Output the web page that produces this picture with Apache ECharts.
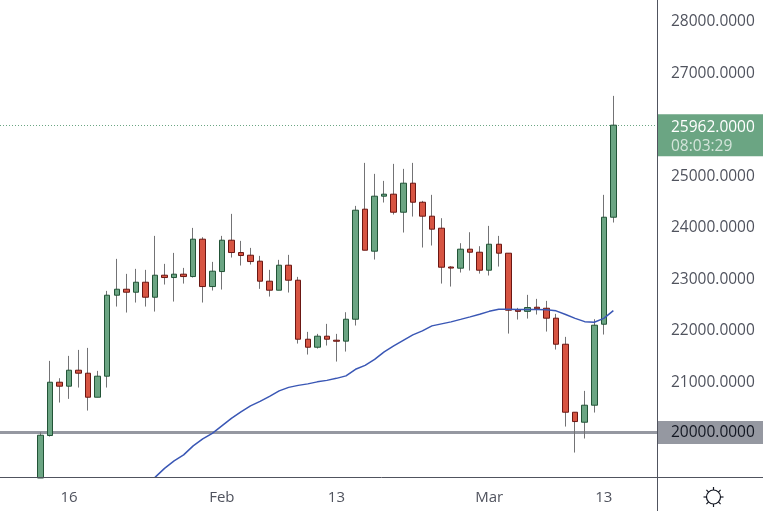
<!DOCTYPE html>
<html><head><meta charset="utf-8">
<style>html,body{margin:0;padding:0;background:#fff}#c{width:763px;height:511px}</style>
<script src="https://cdn.jsdelivr.net/npm/echarts@6/dist/echarts.min.js"></script>
</head><body><div id="c"></div>
<script>
const dates = ['Jan 13','Jan 14','Jan 15','Jan 16','Jan 17','Jan 18','Jan 19','Jan 20','Jan 21','Jan 22','Jan 23','Jan 24','Jan 25','Jan 26','Jan 27','Jan 28','Jan 29','Jan 30','Jan 31','Feb 1','Feb 2','Feb 3','Feb 4','Feb 5','Feb 6','Feb 7','Feb 8','Feb 9','Feb 10','Feb 11','Feb 12','Feb 13','Feb 14','Feb 15','Feb 16','Feb 17','Feb 18','Feb 19','Feb 20','Feb 21','Feb 22','Feb 23','Feb 24','Feb 25','Feb 26','Feb 27','Feb 28','Mar 1','Mar 2','Mar 3','Mar 4','Mar 5','Mar 6','Mar 7','Mar 8','Mar 9','Mar 10','Mar 11','Mar 12','Mar 13','Mar 14'];
const xTickLabels = {'Jan 16':'16','Feb 1':'Feb','Feb 13':'13','Mar 1':'Mar','Mar 13':'13'};
const opens = [19117,19941,20975,20898,21208,21150,20684,21092,22663,22779,22721,22915,22624,23051,23006,23071,23025,23750,22831,23122,23730,23491,23439,23323,22935,22760,23245,22954,21809,21654,21868,21790,21772,22197,24332,23517,24584,24623,24273,24836,24467,24196,23963,23210,23187,23556,23497,23148,23652,23478,22380,22350,22430,22410,22217,21712,20393,20199,20529,22100,24176];
const closes = [19947,20975,20898,21208,21150,20684,21092,22663,22779,22721,22915,22624,23051,23006,23071,23025,23750,22831,23129,23730,23491,23433,23316,22935,22760,23245,22954,21809,21654,21868,21809,21770,22197,24312,23536,24584,24623,24273,24836,24467,24196,23944,23206,23190,23556,23497,23148,23652,23478,22372,22350,22424,22400,22217,21712,20393,20212,20529,22081,24176,25962];
const lows = [19117,19921,20581,20652,20872,20425,20684,20872,22443,22327,22521,22443,22346,22870,22540,22889,23006,22521,22754,22773,23394,23239,23258,22786,22637,22760,22715,21725,21512,21628,21687,21376,21570,22075,23536,23355,24461,24228,23879,24189,23588,23627,22889,22831,23103,23142,23083,23045,23219,21919,22191,22210,22288,21958,21609,20115,19611,19883,20387,21900,24073];
const highs = [20005,21389,21053,21486,21602,21641,21195,22747,23368,23077,23174,23155,23814,23271,23484,23193,23969,23788,23310,23814,24241,23717,23581,23426,23155,23349,23446,23019,21952,21913,22107,21913,22333,24396,25230,25017,24881,25211,25114,25230,24493,24610,24157,23226,23672,23885,23614,24008,23814,23478,22417,22670,22592,22553,22301,21855,20393,20807,22197,24610,26530];
const maValues = [null,null,null,null,null,null,null,null,null,null,null,null,19130,19304,19449,19565,19740,19876,19983,20128,20274,20400,20516,20603,20700,20807,20875,20914,20943,20982,21011,21050,21098,21226,21302,21418,21564,21680,21787,21894,21971,22068,22107,22146,22194,22243,22295,22350,22392,22392,22388,22388,22385,22379,22360,22288,22214,22150,22138,22214,22365];
const yTickValues = [21000,22000,23000,24000,25000,27000,28000];
const lastPrice = 25962, lastPriceText = '25962.0000', countdown = '08:03:29';
const levelPrice = 20000, levelText = '20000.0000';

const FONT = '"Open Sans","Noto Sans",sans-serif';
const xTickIndex = dates.map((d,i)=>xTickLabels[d]?i:-1).filter(i=>i>=0);
const wickData = dates.map((_,i)=>[i,opens[i],closes[i],lows[i],highs[i]]);
const bodyData = dates.map((_,i)=>[i,opens[i],closes[i],Math.min(opens[i],closes[i]),Math.max(opens[i],closes[i])]);
const maData = dates.map((_,i)=>[i,maValues[i]]);

const icx=713.5, icy=497;
const iconRays = [0,1,2,3,4,5,6,7].map(k=>{const a=k*Math.PI/4;return {type:'line',z:50,shape:{x1:icx+7*Math.cos(a),y1:icy+7*Math.sin(a),x2:icx+10*Math.cos(a),y2:icy+10*Math.sin(a)},style:{stroke:'#131722',lineWidth:1.2}}});

const chart = echarts.init(document.getElementById('c'),null,{renderer:'canvas'});
chart.setOption({
  animation:false,
  backgroundColor:'#fff',
  grid:{left:0,top:0,width:657,height:478},
  xAxis:{type:'value',min:-4.23,max:64.57,scale:true,
    axisLine:{show:false},axisTick:{show:false},splitLine:{show:false},
    axisLabel:{customValues:xTickIndex,margin:12,fontFamily:FONT,fontSize:15,color:'#50535e',
      formatter:v=>xTickLabels[dates[v]]||''}},
  yAxis:{type:'value',position:'right',min:19117,max:28390,scale:true,
    axisLine:{show:false},axisTick:{show:false},splitLine:{show:false},
    axisLabel:{customValues:yTickValues,margin:14,align:'left',fontFamily:FONT,fontSize:15.5,color:'#50535e',
      formatter:v=>'{v|'+v.toFixed(4)+'}',
      rich:{v:{fontFamily:FONT,fontSize:15.5,color:'#50535e',padding:[3,0,0,0]}}}},
  series:[
    {type:'candlestick',name:'wick',data:wickData,barWidth:1,z:2,clip:true,
      encode:{x:0,y:[1,2,3,4]},
      itemStyle:{color:'#737375',color0:'#737375',borderColor:'#737375',borderColor0:'#737375',borderWidth:1},
      markLine:{silent:true,symbol:'none',animation:false,z:1,
        data:[
          {yAxis:levelPrice,lineStyle:{color:'#9598a1',width:3,type:'solid'},
            label:{show:true,position:'end',distance:0,formatter:levelText,fontFamily:FONT,fontSize:15.5,color:'#131722',
              backgroundColor:'#9598a1',width:92,height:20,lineHeight:20,padding:[3,0,0,14],align:'left'}},
          {yAxis:lastPrice,lineStyle:{color:'#6ba583',width:1,type:[1,2]},
            label:{show:true,position:'end',distance:0,offset:[0,10],
              formatter:'{a|'+lastPriceText+'}\n{b|'+countdown+'}',
              backgroundColor:'#6ba583',width:92,padding:[4,0,0,14],align:'left',
              rich:{a:{fontFamily:FONT,fontSize:15.5,color:'#fff',lineHeight:19,width:92},
                    b:{fontFamily:FONT,fontSize:15.5,color:'rgba(255,255,255,0.7)',lineHeight:19,width:92}}}}
        ]}},
    {type:'candlestick',name:'body',data:bodyData,barWidth:6,z:3,clip:true,
      encode:{x:0,y:[1,2,3,4]},
      itemStyle:{color:'#6ba583',color0:'#d75442',borderColor:'#225437',borderColor0:'#6b1713',borderWidth:1}},
    {type:'line',name:'MA',data:maData,showSymbol:false,symbol:'none',smooth:false,z:4,clip:true,
      lineStyle:{color:'#3a57b5',width:1.5}}
  ],
  graphic:[
    {type:'line',z:50,shape:{x1:0,y1:477.5,x2:763,y2:477.5},style:{stroke:'#50535e',lineWidth:1}},
    {type:'line',z:50,shape:{x1:657.5,y1:0,x2:657.5,y2:511},style:{stroke:'#50535e',lineWidth:1}},
    {type:'circle',z:50,shape:{cx:icx,cy:icy,r:7},style:{fill:'#fff',stroke:'#131722',lineWidth:1.2}},
    ...iconRays
  ]
});
</script></body></html>
